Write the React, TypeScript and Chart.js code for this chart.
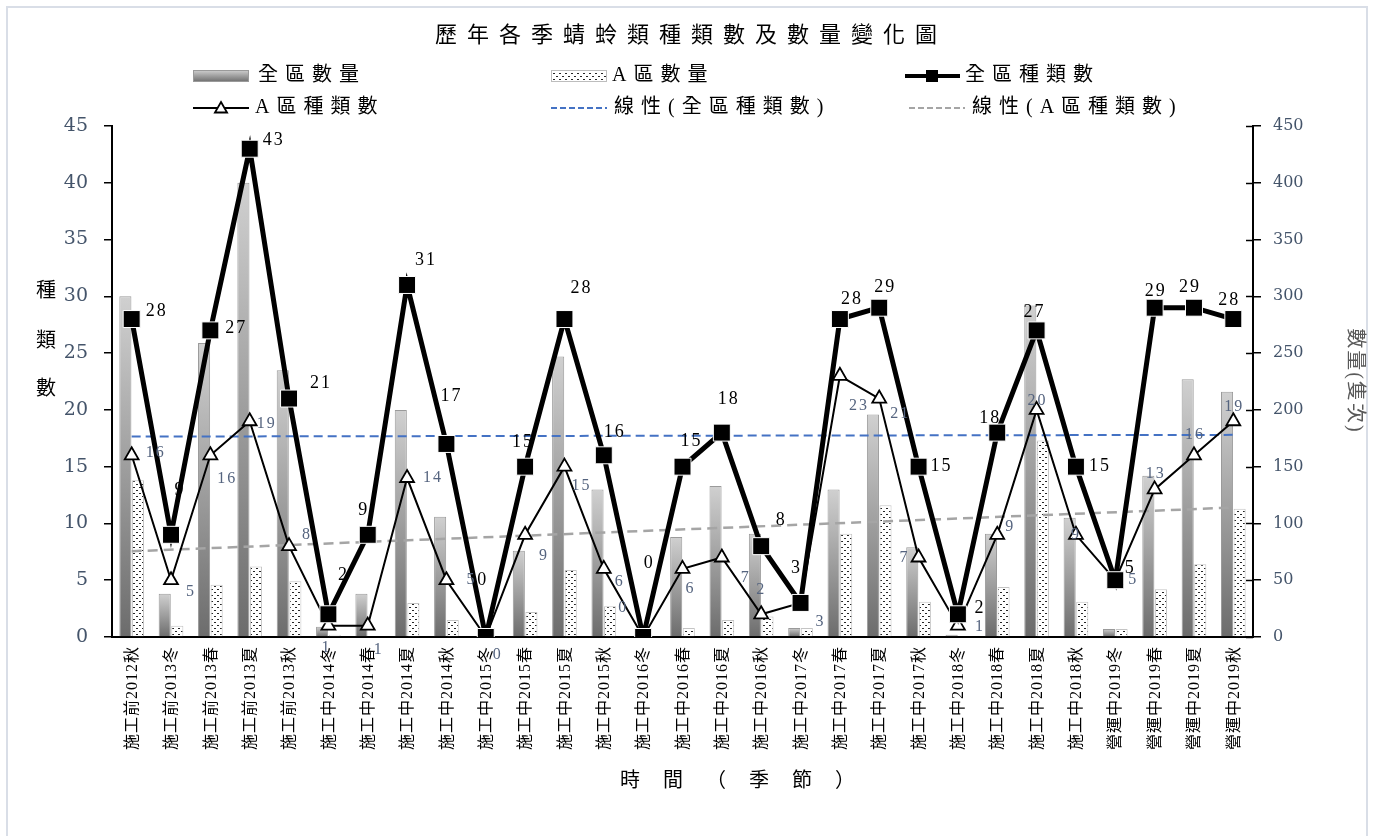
import React, { useEffect, useRef } from 'react';
import { Chart, registerables } from 'chart.js';

Chart.register(...registerables);

// ---------------- data ----------------
const categories = [
  '施工前2012秋', '施工前2013冬', '施工前2013春', '施工前2013夏', '施工前2013秋',
  '施工中2014冬', '施工中2014春', '施工中2014夏', '施工中2014秋',
  '施工中2015冬', '施工中2015春', '施工中2015夏', '施工中2015秋',
  '施工中2016冬', '施工中2016春', '施工中2016夏', '施工中2016秋',
  '施工中2017冬', '施工中2017春', '施工中2017夏', '施工中2017秋',
  '施工中2018冬', '施工中2018春', '施工中2018夏', '施工中2018秋',
  '營運中2019冬', '營運中2019春', '營運中2019夏', '營運中2019秋',
];

// 全區數量 (right axis)
const totalCount = [300, 38, 259, 400, 235, 9, 38, 200, 106, 0, 76, 247, 130, 0, 88, 133, 91, 8, 130, 196, 79, 2, 91, 292, 105, 7, 142, 227, 216];
// A區數量 (right axis)
const areaACount = [138, 10, 46, 62, 49, 2, 0, 30, 15, 0, 22, 59, 27, 0, 8, 15, 18, 8, 91, 116, 31, 0, 44, 173, 31, 7, 42, 64, 113];
// 全區種類數 (left axis)
const totalSpecies = [28, 9, 27, 43, 21, 2, 9, 31, 17, 0, 15, 28, 16, 0, 15, 18, 8, 3, 28, 29, 15, 2, 18, 27, 15, 5, 29, 29, 28];
// A區種類數 (left axis)
const areaASpecies = [16, 5, 16, 19, 8, 1, 1, 14, 5, 0, 9, 15, 6, 0, 6, 7, 2, 3, 23, 21, 7, 1, 9, 20, 9, 5, 13, 16, 19];
// linear trend line end values (start, end)
const trendTotalEnds = [17.65, 17.8];
const trendAEnds = [7.55, 11.4];

const leftTicks = { min: 0, max: 45, step: 5 };
const rightTicks = { min: 0, max: 450, step: 50 };

// ---------------- label layout (offsets from the point, px) ----------------
const totalLabelOffsets: [number, number][] = [
  [24, -8], [8, -45], [25, -2], [23, -8], [31, -15], [14, -39], [-5, -25], [18, -25], [4, -48],
  [-4, -57], [-3, -24], [16, -31], [10, -23], [5, -74], [8, -25], [6, -33], [19, -26], [-5, -35],
  [11, -20], [5, -20], [22, 0], [21, -6], [-8, -14], [-3, -18], [23, 0], [14, -12], [0, -16], [-5, -20], [-5, -19],
];
const areaALabelOffsets: [number, number][] = [
  [23, -3], [19, 12], [16, 23], [16, 3], [17, -11], [-3, 22], [10, 24], [25, 0], [24, 0],
  [11, 18], [18, 21], [16, 19], [15, 13], [-21, -29], [7, 20], [23, 20], [-1, -24], [19, 19],
  [18, 30], [20, 15], [-15, 0], [21, 1], [12, -8], [0, -9], [-1, 0], [17, 0], [0, -16], [0, -21], [0, -14],
];

const CJK = "'Liberation Serif', 'Noto Sans CJK TC', serif";
const AXIS_BLUE = '#44546A';
const LABEL_BLUE = '#55647F';

function makeDotPattern(ctx: CanvasRenderingContext2D) {
  const c = document.createElement('canvas');
  c.width = 6;
  c.height = 6;
  const g = c.getContext('2d')!;
  g.fillStyle = '#ffffff';
  g.fillRect(0, 0, 6, 6);
  g.fillStyle = '#262626';
  g.fillRect(1, 1, 2, 1);
  g.fillRect(4, 4, 2, 1);
  return ctx.createPattern(c, 'repeat') as CanvasPattern;
}

function grayGradient(ctx: CanvasRenderingContext2D, top: number, bottom: number) {
  const g = ctx.createLinearGradient(0, top, 0, bottom);
  g.addColorStop(0, '#d0d0d0');
  g.addColorStop(1, '#6c6c6c');
  return g;
}

function drawTriangle(ctx: CanvasRenderingContext2D, x: number, y: number, r: number) {
  ctx.beginPath();
  ctx.moveTo(x, y - r);
  ctx.lineTo(x + r * 0.866, y + r * 0.5);
  ctx.lineTo(x - r * 0.866, y + r * 0.5);
  ctx.closePath();
  ctx.fillStyle = '#fff';
  ctx.fill();
  ctx.lineWidth = 1.8;
  ctx.strokeStyle = '#000';
  ctx.stroke();
}

const decorPlugin = {
  id: 'decor',
  beforeDraw(chart: any) {
    const { ctx, width, height } = chart;
    ctx.save();
    ctx.fillStyle = '#ffffff';
    ctx.fillRect(0, 0, width, height);
    ctx.strokeStyle = '#D9DEE7';
    ctx.lineWidth = 2;
    ctx.strokeRect(7, 7, 1360, height + 20);
    ctx.restore();
  },
  afterDatasetsDraw(chart: any) {
    const { ctx } = chart;
    const mTotal = chart.getDatasetMeta(0);
    const mA = chart.getDatasetMeta(1);
    ctx.save();
    ctx.textAlign = 'center';
    ctx.textBaseline = 'middle';
    // A區 labels
    ctx.font = `16px 'Liberation Serif', serif`;
    (ctx as any).letterSpacing = '2px';
    ctx.fillStyle = LABEL_BLUE;
    areaASpecies.forEach((v, i) => {
      const el = mA.data[i];
      const [dx, dy] = areaALabelOffsets[i];
      ctx.fillText(String(v), el.x + dx + 1, el.y + dy);
    });
    // 全區 labels
    ctx.font = `18px 'Liberation Serif', serif`;
    ctx.fillStyle = '#000';
    totalSpecies.forEach((v, i) => {
      const el = mTotal.data[i];
      const [dx, dy] = totalLabelOffsets[i];
      ctx.fillText(String(v), el.x + dx + 1, el.y + dy);
    });
    ctx.restore();
  },
  afterDraw(chart: any) {
    const { ctx, chartArea, scales } = chart;
    ctx.save();
    // inward ticks on right axis
    ctx.strokeStyle = '#000';
    ctx.lineWidth = 1.5;
    const y2 = scales.y2;
    for (let v = rightTicks.min; v <= rightTicks.max; v += rightTicks.step) {
      const py = Math.round(y2.getPixelForValue(v)) + 0.5;
      ctx.beginPath();
      ctx.moveTo(chartArea.right - 7, py);
      ctx.lineTo(chartArea.right, py);
      ctx.stroke();
    }

    // x category labels (rotated)
    const xs = scales.x;
    ctx.fillStyle = '#000';
    ctx.font = `16px ${CJK}`;
    (ctx as any).letterSpacing = '1px';
    ctx.textAlign = 'right';
    ctx.textBaseline = 'middle';
    categories.forEach((c, i) => {
      const px = xs.getPixelForValue(i);
      ctx.save();
      ctx.translate(px + 1, chartArea.bottom + 9);
      ctx.rotate(-Math.PI / 2);
      ctx.fillText(c, 0, 0);
      ctx.restore();
    });

    // title
    ctx.textAlign = 'center';
    ctx.textBaseline = 'middle';
    ctx.font = `22px ${CJK}`;
    (ctx as any).letterSpacing = '10px';
    ctx.fillText('歷年各季蜻蛉類種類數及數量變化圖', 686 + 5, 36);

    // x-axis title
    ctx.textAlign = 'left';
    ctx.font = `20px ${CJK}`;
    (ctx as any).letterSpacing = '23px';
    ctx.fillText('時間（季節）', 620, 782);

    // left axis title (stacked)
    (ctx as any).letterSpacing = '0px';
    ctx.textAlign = 'center';
    ctx.fillText('種', 46, 292);
    ctx.fillText('類', 46, 342);
    ctx.fillText('數', 46, 390);

    // right axis title (rotated)
    ctx.save();
    ctx.translate(1354, 380);
    ctx.rotate(Math.PI / 2);
    ctx.fillStyle = '#595959';
    (ctx as any).letterSpacing = '2px';
    ctx.font = `20px ${CJK}`;
    ctx.fillText('數量(隻次)', 1, 0);
    ctx.restore();

    // legend
    const r1 = 76;
    const r2 = 108;
    ctx.font = `20px ${CJK}`;
    (ctx as any).letterSpacing = '7px';
    ctx.textAlign = 'left';
    ctx.textBaseline = 'middle';
    ctx.fillStyle = '#000';

    // 1 gray bar
    ctx.fillStyle = grayGradient(ctx, r1 - 6, r1 + 6);
    ctx.fillRect(193, r1 - 6, 56, 12);
    ctx.strokeStyle = '#9a9a9a';
    ctx.lineWidth = 1;
    ctx.strokeRect(193.5, r1 - 5.5, 55, 11);
    ctx.fillStyle = '#000';
    ctx.fillText('全區數量', 258, r1);

    // 2 dotted bar
    ctx.fillStyle = makeDotPattern(ctx);
    ctx.fillRect(551, r1 - 6, 56, 12);
    ctx.strokeStyle = '#bdbdbd';
    ctx.strokeRect(551.5, r1 - 5.5, 55, 11);
    ctx.fillStyle = '#000';
    ctx.fillText('A區數量', 612, r1);

    // 3 thick line + square
    ctx.strokeStyle = '#000';
    ctx.lineWidth = 4;
    ctx.beginPath();
    ctx.moveTo(905, r1);
    ctx.lineTo(960, r1);
    ctx.stroke();
    ctx.fillRect(926, r1 - 6, 12, 12);
    ctx.fillText('全區種類數', 965, r1);

    // 4 thin line + triangle
    ctx.lineWidth = 2;
    ctx.beginPath();
    ctx.moveTo(193, r2);
    ctx.lineTo(249, r2);
    ctx.stroke();
    drawTriangle(ctx, 221, r2 + 1, 7);
    ctx.fillStyle = '#000';
    ctx.fillText('A區種類數', 255, r2);

    // 5 blue dashed
    ctx.setLineDash([6, 3]);
    ctx.strokeStyle = '#4472C4';
    ctx.lineWidth = 2;
    ctx.beginPath();
    ctx.moveTo(551, r2);
    ctx.lineTo(607, r2);
    ctx.stroke();
    ctx.fillText('線性(全區種類數)', 614, r2);

    // 6 gray dashed
    ctx.strokeStyle = '#A5A5A5';
    ctx.beginPath();
    ctx.moveTo(909, r2);
    ctx.lineTo(965, r2);
    ctx.stroke();
    ctx.setLineDash([]);
    ctx.fillText('線性(A區種類數)', 972, r2);

    ctx.restore();
  },
};

export default function App() {
  const ref = useRef<HTMLCanvasElement>(null);

  useEffect(() => {
    const canvas = ref.current!;
    const ctx2d = canvas.getContext('2d')!;
    const dots = makeDotPattern(ctx2d);
    const n = categories.length;
    const trendData = (ends: number[]) => categories.map((_, i) => (i === 0 ? ends[0] : i === n - 1 ? ends[1] : null));

    const grayBar = (context: any) => {
      const chart = context.chart;
      const { chartArea, scales } = chart;
      if (!chartArea || context.type !== 'data' || !scales.y2) return '#a8a8a8';
      const top = scales.y2.getPixelForValue(context.raw);
      const bottom = chartArea.bottom;
      if (bottom - top < 2) return '#9a9a9a';
      return grayGradient(chart.ctx, top, bottom);
    };

    const chart = new Chart(canvas, {
      type: 'bar',
      data: {
        labels: categories,
        datasets: [
          {
            type: 'line',
            label: '全區種類數',
            data: totalSpecies,
            yAxisID: 'y',
            borderColor: '#000',
            borderWidth: 5,
            pointStyle: 'rect',
            pointRadius: 12,
            pointBackgroundColor: '#000',
            pointBorderColor: '#ffffff',
            pointBorderWidth: 1,
            order: 0,
          } as any,
          {
            type: 'line',
            label: 'A區種類數',
            data: areaASpecies,
            yAxisID: 'y',
            borderColor: '#000',
            borderWidth: 2,
            pointStyle: 'triangle',
            pointRadius: 8,
            pointBackgroundColor: '#fff',
            pointBorderColor: '#000',
            pointBorderWidth: 1.8,
            order: 1,
          } as any,
          {
            type: 'line',
            label: '線性(全區種類數)',
            data: trendData(trendTotalEnds),
            yAxisID: 'y',
            borderColor: '#4472C4',
            borderWidth: 2,
            borderDash: [9, 5],
            pointRadius: 0,
            spanGaps: true,
            order: 2,
          } as any,
          {
            type: 'line',
            label: '線性(A區種類數)',
            data: trendData(trendAEnds),
            yAxisID: 'y',
            borderColor: '#A5A5A5',
            borderWidth: 2.5,
            borderDash: [10, 6],
            pointRadius: 0,
            spanGaps: true,
            order: 3,
          } as any,
          {
            type: 'bar',
            label: '全區數量',
            data: totalCount,
            yAxisID: 'y2',
            backgroundColor: grayBar,
            borderColor: '#9a9a9a',
            borderWidth: 1,
            categoryPercentage: 0.64,
            barPercentage: 0.96,
            order: 4,
          } as any,
          {
            type: 'bar',
            label: 'A區數量',
            data: areaACount,
            yAxisID: 'y2',
            backgroundColor: dots,
            borderColor: '#c4c4c4',
            borderWidth: 1,
            categoryPercentage: 0.64,
            barPercentage: 0.96,
            order: 5,
          } as any,
        ],
      },
      options: {
        responsive: false,
        animation: false,
        devicePixelRatio: 1,
        layout: { padding: { top: 126, left: 0, right: 0, bottom: 0 } },
        plugins: {
          legend: { display: false },
          title: { display: false },
          tooltip: { enabled: false },
        },
        scales: {
          x: {
            type: 'category',
            offset: true,
            grid: { display: false },
            border: { display: true, color: '#000', width: 2 },
            ticks: { display: false },
            afterFit: (s: any) => {
              s.height = 199;
            },
          },
          y: {
            position: 'left',
            min: leftTicks.min,
            max: leftTicks.max,
            ticks: {
              stepSize: leftTicks.step,
              color: AXIS_BLUE,
              font: { family: "'DejaVu Serif', serif", size: 19 },
              padding: 16,
            },
            grid: { drawOnChartArea: false, drawTicks: true, tickLength: 8, color: '#000', lineWidth: 1.5 },
            border: { display: true, color: '#000', width: 2 },
            afterFit: (s: any) => {
              s.width = 112;
            },
          },
          y2: {
            position: 'right',
            min: rightTicks.min,
            max: rightTicks.max,
            ticks: {
              stepSize: rightTicks.step,
              color: AXIS_BLUE,
              font: { family: "'DejaVu Serif', serif", size: 16 },
              padding: 12,
            },
            grid: { drawOnChartArea: false, drawTicks: true, tickLength: 8, color: '#000', lineWidth: 1.5 },
            border: { display: true, color: '#000', width: 2 },
            afterFit: (s: any) => {
              s.width = 122;
            },
          },
        },
      } as any,
      plugins: [decorPlugin],
    });
    return () => chart.destroy();
  }, []);

  return (
    <div style={{ position: 'absolute', left: 0, top: 0, width: 1375, height: 836, background: '#fff' }}>
      <canvas ref={ref} width={1375} height={836} style={{ display: 'block', width: 1375, height: 836 }} />
    </div>
  );
}
